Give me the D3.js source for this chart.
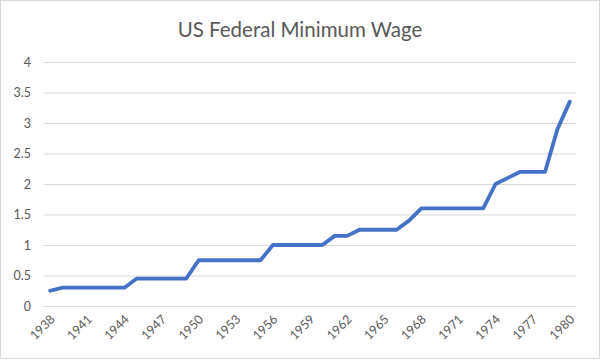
<!DOCTYPE html>
<html>
<head>
<meta charset="utf-8">
<script src="https://cdn.jsdelivr.net/npm/d3@7"></script>
<style>
  body { margin: 0; background: #fff; }
  text { font-family: Lato, "Open Sans", sans-serif; }
</style>
</head>
<body>
<div id="chart"></div>
<script>
(function() {
"use strict";
var years = [];
for (var yr = 1938; yr <= 1980; yr++) { years.push(yr); }
var wages = [
  0.25, 0.30, 0.30, 0.30, 0.30, 0.30, 0.30, 0.45, 0.45, 0.45,
  0.45, 0.45, 0.75, 0.75, 0.75, 0.75, 0.75, 0.75, 1.00, 1.00,
  1.00, 1.00, 1.00, 1.15, 1.15, 1.25, 1.25, 1.25, 1.25, 1.40,
  1.60, 1.60, 1.60, 1.60, 1.60, 1.60, 2.00, 2.10, 2.20, 2.20,
  2.20, 2.90, 3.35
];
var yTicks = [0, 0.5, 1, 1.5, 2, 2.5, 3, 3.5, 4];
var title = "US Federal Minimum Wage";

var W = 601, H = 361;
var left = 44, right = 576, top = 62, bottom = 306;

var svg = d3.select("#chart").append("svg")
  .attr("width", W).attr("height", H);

svg.append("rect")
  .attr("x", 0.5).attr("y", 0.5)
  .attr("width", 599).attr("height", 358)
  .attr("fill", "#fff").attr("stroke", "#d9d9d9");

var x = d3.scalePoint().domain(years).range([left, right]).padding(0.5);
var y = d3.scaleLinear().domain([0, 4]).range([bottom, top]);

svg.append("text")
  .attr("x", 300).attr("y", 37)
  .attr("text-anchor", "middle")
  .attr("font-size", 20.5)
  .attr("fill", "#595959")
  .text(title);

// grid + y labels
var yAxis = svg.append("g")
  .attr("transform", "translate(" + left + ",0)")
  .call(d3.axisLeft(y).tickValues(yTicks).tickSize(-(right - left)).tickPadding(13)
    .tickFormat(function(d) { return d; }));
yAxis.select(".domain").remove();
yAxis.selectAll(".tick line").attr("stroke", "#d9d9d9");
yAxis.selectAll(".tick text")
  .attr("fill", "#595959").attr("font-size", 12.5)
  .style("font-family", "Lato, 'Open Sans', sans-serif");

// x labels every 3rd year
var xAxis = svg.append("g")
  .attr("transform", "translate(0," + bottom + ")")
  .call(d3.axisBottom(x).tickValues(years.filter(function(d, i) { return i % 3 === 0; }))
    .tickSize(0).tickPadding(0));
xAxis.select(".domain").remove();
xAxis.selectAll(".tick text")
  .attr("fill", "#595959").attr("font-size", 12.5)
  .style("font-family", "Lato, 'Open Sans', sans-serif")
  .attr("text-anchor", "end")
  .attr("dy", null).attr("y", null)
  .attr("transform", "translate(5,14) rotate(-45)");

var line = d3.line()
  .x(function(d, i) { return x(years[i]); })
  .y(function(d) { return y(d); });

svg.append("path")
  .datum(wages)
  .attr("d", line)
  .attr("fill", "none")
  .attr("stroke", "#4472C4")
  .attr("stroke-width", 3.8)
  .attr("stroke-linejoin", "round")
  .attr("stroke-linecap", "round");
})();
</script>
</body>
</html>
